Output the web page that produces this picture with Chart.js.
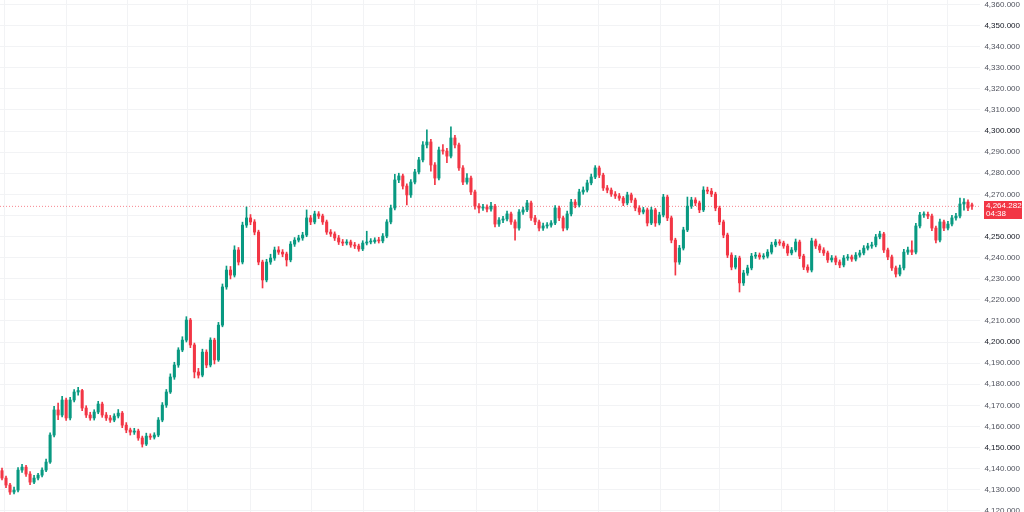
<!DOCTYPE html>
<html><head><meta charset="utf-8">
<script src="https://cdn.jsdelivr.net/npm/chart.js@4.4.1/dist/chart.umd.min.js"></script>
<style>html,body{margin:0;padding:0;background:#fff;overflow:hidden}#wrap{width:1024px;height:512px;position:relative}</style>
</head><body><div id="wrap"><canvas id="c"></canvas></div>
<script>
const openPrices=[
4139.0,4135.5,4132.2,4128.9,4129.8,4139.3,4140.7,4137.4,4133.6,4135.5,
4136.9,4139.3,4143.1,4155.9,4167.8,4165.4,4172.5,4164.0,4172.5,4176.3,
4177.0,4168.7,4165.4,4164.0,4166.8,4170.6,4165.4,4164.0,4163.0,4164.9,
4166.3,4160.6,4158.3,4157.3,4157.8,4154.5,4151.6,4155.4,4154.9,4155.9,
4163.0,4170.1,4176.3,4183.4,4189.1,4196.2,4200.9,4210.4,4198.6,4185.8,
4184.3,4195.2,4189.1,4200.9,4191.5,4208.0,4226.1,4234.1,4231.7,4243.6,
4237.9,4255.4,4258.8,4256.9,4252.1,4237.9,4229.4,4237.9,4239.8,4243.6,
4242.6,4241.7,4238.9,4246.4,4248.3,4249.3,4250.7,4258.8,4256.9,4260.7,
4259.7,4256.9,4252.1,4251.2,4249.3,4247.4,4246.9,4247.4,4246.0,4245.5,
4244.1,4246.9,4247.4,4247.6,4248.3,4247.9,4250.2,4256.9,4263.5,4276.8,
4278.7,4273.9,4269.7,4275.8,4280.6,4286.3,4293.4,4294.8,4283.9,4277.7,
4291.0,4290.5,4288.1,4296.7,4293.4,4282.5,4275.8,4277.7,4271.1,4264.4,
4263.5,4264.0,4263.0,4264.4,4255.9,4257.8,4258.3,4260.7,4256.9,4254.0,
4261.6,4262.6,4265.9,4258.8,4256.9,4254.0,4255.0,4255.4,4256.4,4263.5,
4258.8,4254.0,4260.7,4266.3,4264.9,4271.1,4272.0,4275.4,4278.2,4282.5,
4279.1,4273.0,4272.0,4270.1,4269.2,4268.2,4265.9,4269.7,4267.3,4263.5,
4261.6,4262.6,4256.4,4262.6,4256.4,4260.2,4268.7,4258.8,4248.3,4237.9,
4244.5,4253.1,4264.4,4267.3,4265.9,4262.6,4272.0,4271.5,4270.1,4263.5,
4256.9,4250.7,4241.2,4235.5,4239.8,4228.0,4232.7,4235.1,4240.7,4241.2,
4240.3,4240.7,4242.6,4246.0,4247.4,4246.9,4245.5,4242.2,4243.6,4247.4,
4240.7,4235.5,4234.1,4247.9,4245.5,4243.6,4242.2,4238.9,4239.8,4237.9,
4236.5,4239.8,4240.3,4239.3,4241.2,4242.2,4244.5,4245.5,4246.0,4249.8,
4251.2,4243.6,4240.3,4235.1,4232.2,4235.1,4242.6,4243.6,4242.6,4255.0,
4260.2,4260.5,4259.7,4254.0,4248.3,4256.9,4254.0,4255.9,4258.8,4259.7,
4265.4,4266.3,4265.0];
const highPrices=[
4140.2,4136.4,4133.0,4131.2,4140.5,4142.0,4141.5,4138.6,4136.8,4137.7,
4140.4,4144.5,4157.0,4169.5,4171.0,4174.2,4173.4,4173.8,4177.4,4178.5,
4177.6,4169.8,4166.7,4167.9,4171.9,4171.5,4166.6,4165.2,4166.0,4168.0,
4167.1,4161.8,4159.2,4159.1,4158.7,4155.4,4156.8,4156.5,4157.0,4164.2,
4171.3,4177.5,4184.9,4190.4,4197.3,4202.5,4212.0,4211.2,4199.5,4187.5,
4196.6,4196.3,4202.0,4201.8,4209.3,4227.5,4236.0,4235.8,4245.6,4244.8,
4256.8,4264.0,4260.4,4258.0,4253.0,4238.8,4239.2,4241.6,4245.0,4245.2,
4243.8,4242.6,4247.6,4249.5,4250.6,4252.0,4262.6,4260.0,4262.0,4261.8,
4260.6,4257.8,4253.3,4252.2,4250.5,4248.6,4248.5,4248.3,4247.2,4246.4,
4248.0,4252.5,4249.0,4249.4,4249.6,4251.4,4258.0,4264.9,4279.5,4280.0,
4279.6,4275.0,4277.0,4281.8,4287.5,4295.0,4300.5,4296.0,4285.0,4292.4,
4293.6,4291.8,4302.0,4298.0,4294.3,4283.6,4279.8,4278.6,4272.0,4265.6,
4265.2,4265.0,4266.2,4265.3,4259.0,4259.6,4262.0,4261.6,4257.9,4262.8,
4264.0,4267.2,4266.8,4260.0,4257.8,4256.4,4256.6,4257.6,4264.6,4264.4,
4259.7,4262.0,4267.6,4267.5,4272.4,4273.5,4276.7,4279.6,4283.6,4283.4,
4280.0,4274.2,4273.0,4271.3,4270.4,4269.0,4271.0,4270.6,4268.2,4264.6,
4263.8,4263.5,4263.9,4263.4,4261.5,4270.0,4269.6,4259.7,4249.2,4245.8,
4254.4,4268.7,4268.6,4268.4,4266.8,4273.6,4273.4,4272.8,4271.0,4264.4,
4257.8,4251.6,4242.3,4241.0,4240.7,4234.0,4236.4,4242.0,4242.5,4242.2,
4241.9,4243.8,4247.3,4248.6,4248.5,4247.8,4246.4,4244.8,4248.8,4248.3,
4241.6,4236.6,4249.2,4248.8,4246.4,4244.7,4243.1,4241.0,4240.8,4238.9,
4241.0,4241.5,4241.2,4242.4,4243.5,4245.7,4246.8,4247.3,4251.0,4252.5,
4252.0,4244.5,4241.2,4236.0,4236.4,4243.9,4245.0,4248.0,4256.3,4261.4,
4261.7,4261.6,4260.6,4254.9,4258.2,4257.8,4257.2,4260.0,4261.0,4268.2,
4268.0,4267.4,4265.8];
const lowPrices=[
4134.6,4131.0,4127.8,4128.0,4129.0,4138.2,4136.3,4132.4,4132.9,4134.6,
4136.0,4138.5,4142.4,4155.0,4163.2,4164.5,4162.8,4163.1,4171.6,4174.8,
4167.5,4164.2,4162.9,4163.0,4166.0,4164.3,4162.8,4161.9,4162.2,4164.0,
4159.4,4157.0,4155.9,4156.2,4153.4,4150.2,4150.9,4153.8,4154.0,4155.1,
4162.2,4169.0,4175.6,4182.3,4188.0,4195.4,4200.0,4197.3,4183.0,4182.9,
4183.5,4187.8,4188.2,4189.6,4190.8,4207.2,4225.0,4229.9,4230.8,4236.5,
4237.0,4254.3,4255.6,4250.8,4236.6,4225.6,4228.5,4236.8,4238.7,4241.5,
4240.4,4236.0,4238.0,4245.3,4247.4,4248.2,4249.9,4255.6,4256.0,4258.5,
4255.7,4251.0,4250.0,4248.1,4246.2,4245.7,4246.0,4244.9,4244.3,4243.0,
4243.3,4246.0,4246.5,4246.8,4246.9,4247.0,4249.4,4256.0,4262.6,4275.5,
4272.5,4265.0,4268.5,4274.9,4279.7,4285.4,4292.0,4281.0,4274.6,4276.8,
4289.0,4285.0,4287.2,4292.0,4281.3,4274.6,4274.8,4269.8,4263.0,4261.2,
4262.4,4261.6,4262.0,4254.6,4254.8,4256.6,4257.4,4255.7,4248.3,4253.0,
4260.5,4261.8,4257.6,4255.6,4252.7,4252.9,4254.0,4254.4,4255.6,4257.5,
4252.6,4253.1,4259.8,4263.6,4264.0,4270.0,4271.1,4274.5,4277.4,4277.9,
4271.8,4270.7,4269.0,4268.0,4267.1,4264.6,4265.0,4266.1,4262.2,4260.4,
4260.7,4255.0,4255.6,4254.8,4255.5,4259.3,4257.5,4247.0,4231.7,4236.8,
4243.6,4252.3,4263.3,4264.6,4261.3,4261.8,4270.3,4268.9,4262.2,4255.6,
4249.4,4240.0,4234.2,4234.6,4223.7,4226.8,4231.6,4234.2,4239.6,4239.2,
4239.3,4239.8,4241.7,4245.1,4245.8,4244.4,4241.0,4241.3,4242.7,4239.5,
4234.3,4233.0,4233.2,4244.3,4242.4,4241.0,4237.7,4237.9,4236.6,4235.2,
4235.6,4238.7,4238.2,4238.4,4240.2,4241.3,4243.6,4244.4,4245.1,4248.9,
4242.4,4239.0,4233.9,4230.8,4231.3,4234.2,4241.5,4241.4,4241.8,4254.1,
4259.1,4258.5,4252.8,4247.0,4247.4,4252.8,4253.1,4255.0,4257.8,4258.8,
4262.5,4262.3,4262.8];
const closePrices=[
4135.5,4132.2,4128.9,4129.8,4139.3,4140.7,4137.4,4133.6,4135.5,4136.9,
4139.3,4143.1,4155.9,4167.8,4165.4,4172.5,4164.0,4172.5,4176.3,4177.0,
4168.7,4165.4,4164.0,4166.8,4170.6,4165.4,4164.0,4163.0,4164.9,4166.3,
4160.6,4158.3,4157.3,4157.8,4154.5,4151.6,4155.4,4154.9,4155.9,4163.0,
4170.1,4176.3,4183.4,4189.1,4196.2,4200.9,4210.4,4198.6,4185.8,4184.3,
4195.2,4189.1,4200.9,4191.5,4208.0,4226.1,4234.1,4231.7,4243.6,4237.9,
4255.4,4258.8,4256.9,4252.1,4237.9,4229.4,4237.9,4239.8,4243.6,4242.6,
4241.7,4238.9,4246.4,4248.3,4249.3,4250.7,4258.8,4256.9,4260.7,4259.7,
4256.9,4252.1,4251.2,4249.3,4247.4,4246.9,4247.4,4246.0,4245.5,4244.1,
4246.9,4247.4,4247.6,4248.3,4247.9,4250.2,4256.9,4263.5,4276.8,4278.7,
4273.9,4269.7,4275.8,4280.6,4286.3,4293.4,4294.8,4283.9,4277.7,4291.0,
4290.5,4288.1,4296.7,4293.4,4282.5,4275.8,4277.7,4271.1,4264.4,4263.5,
4264.0,4263.0,4264.4,4255.9,4257.8,4258.3,4260.7,4256.9,4254.0,4261.6,
4262.6,4265.9,4258.8,4256.9,4254.0,4255.0,4255.4,4256.4,4263.5,4258.8,
4254.0,4260.7,4266.3,4264.9,4271.1,4272.0,4275.4,4278.2,4282.5,4279.1,
4273.0,4272.0,4270.1,4269.2,4268.2,4265.9,4269.7,4267.3,4263.5,4261.6,
4262.6,4256.4,4262.6,4256.4,4260.2,4268.7,4258.8,4248.3,4237.9,4244.5,
4253.1,4264.4,4267.3,4265.9,4262.6,4272.0,4271.5,4270.1,4263.5,4256.9,
4250.7,4241.2,4235.5,4239.8,4228.0,4232.7,4235.1,4240.7,4241.2,4240.3,
4240.7,4242.6,4246.0,4247.4,4246.9,4245.5,4242.2,4243.6,4247.4,4240.7,
4235.5,4234.1,4247.9,4245.5,4243.6,4242.2,4238.9,4239.8,4237.9,4236.5,
4239.8,4240.3,4239.3,4241.2,4242.2,4244.5,4245.5,4246.0,4249.8,4251.2,
4243.6,4240.3,4235.1,4232.2,4235.1,4242.6,4243.6,4242.6,4255.0,4260.2,
4260.5,4259.7,4254.0,4248.3,4256.9,4254.0,4255.9,4258.8,4259.7,4265.4,
4266.3,4263.5,4264.282];
const yTickValues=[4120,4130,4140,4150,4160,4170,4180,4190,4200,4210,4220,4230,4240,4250,4260,4270,4280,4290,4300,4310,4320,4330,4340,4350,4360];
const timeGridIndex=[0.5,16.0,31.2,46.4,61.9,77.1,90.1,103.0,118.5,133.7,148.7,164.2,179.1,194.6,207.8,220.8,236.0];
const countdownText='04:38';

const UP='#089981', DOWN='#F23645';
const N=closePrices.length;
const idx=closePrices.map((_,i)=>i);
const bodies=idx.map(i=>({x:i,y:[openPrices[i],closePrices[i]]}));
const wicks=idx.map(i=>({x:i,y:[lowPrices[i],highPrices[i]]}));
const colorOf=i=>closePrices[i]>=openPrices[i]?UP:DOWN;
const lastPrice=closePrices[N-1];
const fmt=v=>v.toLocaleString('en-US',{minimumFractionDigits:3,maximumFractionDigits:3});
const FONT="'Liberation Sans', Arial, sans-serif";

const priceTag={id:'priceTag',afterDraw(chart){
  const ys=chart.scales.y;const py=Math.round(ys.getPixelForValue(lastPrice));
  const ctx=chart.ctx;ctx.save();
  ctx.fillStyle=colorOf(N-1);
  ctx.fillRect(984,py-5,38,18);
  ctx.fillStyle='#ffffff';ctx.font='8px '+FONT;ctx.textBaseline='middle';ctx.textAlign='left';
  ctx.fillText(fmt(lastPrice),986,py);
  ctx.fillText(countdownText,986,py+8);
  ctx.restore();
}};

new Chart(document.getElementById('c'),{
  type:'bar',
  data:{datasets:[
    {data:bodies,backgroundColor:c=>colorOf(c.dataIndex),borderWidth:0,barThickness:2.4,grouped:false,minBarLength:1},
    {data:wicks,backgroundColor:c=>colorOf(c.dataIndex),borderWidth:0,barThickness:1,grouped:false},
    {type:'line',data:[{x:-0.5,y:lastPrice},{x:244,y:lastPrice}],borderColor:'rgba(242,54,69,0.6)',borderWidth:1,borderDash:[1,2],pointRadius:0,fill:false}
  ]},
  options:{
    responsive:true,maintainAspectRatio:false,animation:false,
    layout:{padding:{left:0,right:4,top:0,bottom:0}},
    plugins:{legend:{display:false},tooltip:{enabled:false}},
    scales:{
      x:{type:'linear',min:-0.5,max:244,offset:false,
        grid:{color:'#f2f3f5',offset:false,drawTicks:false},border:{display:false},
        ticks:{display:false},
        afterBuildTicks:s=>{s.ticks=timeGridIndex.map(v=>({value:v}));},
        afterFit:s=>{s.height=0;}},
      y:{position:'right',min:4119.43,max:4362.09,
        grid:{color:'#f2f3f5',drawTicks:false},border:{display:false},
        afterBuildTicks:s=>{s.ticks=yTickValues.map(v=>({value:v}));},
        afterFit:s=>{s.width=40;s.paddingTop=0;s.paddingBottom=0;},
        ticks:{crossAlign:'far',padding:0,font:{size:8,family:FONT},
          color:c=>(c.tick&&c.tick.value%50===0)?'#131722':'#50535e',
          callback:v=>fmt(v)}}
    }
  },
  plugins:[priceTag]
});
</script></body></html>
